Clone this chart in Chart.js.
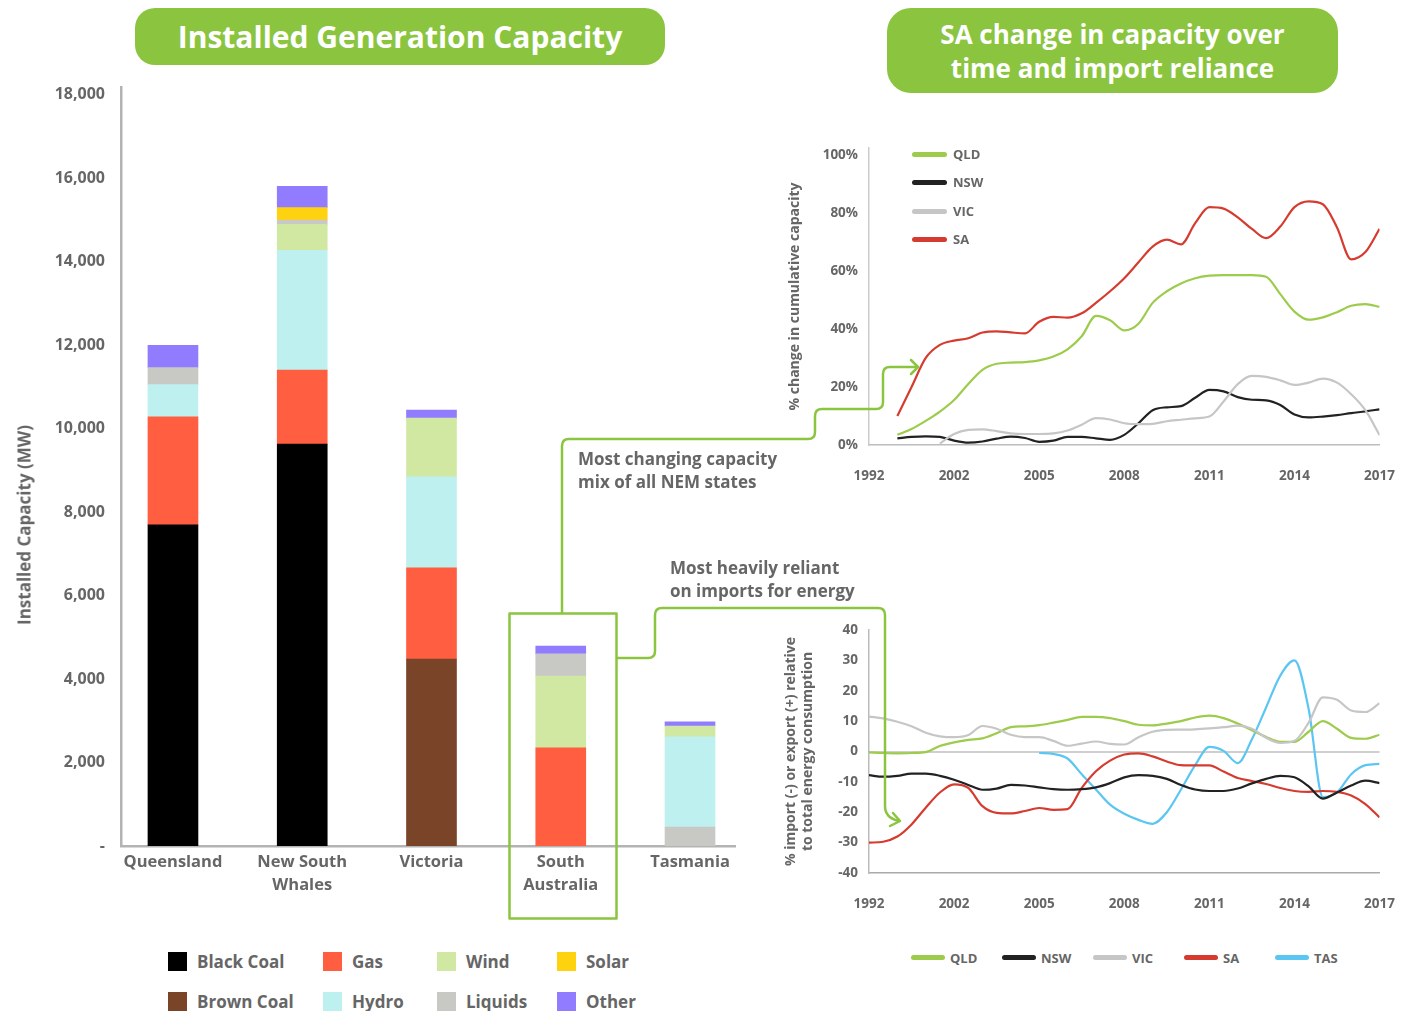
<!DOCTYPE html>
<html>
<head>
<meta charset="utf-8">
<title>Installed Generation Capacity</title>
<script src="https://cdn.jsdelivr.net/npm/chart.js@4.4.1/dist/chart.umd.min.js"></script>
<style>
  body { margin: 0; background: #fff; font-family: "Open Sans", sans-serif; color: #666; }
  #page { position: relative; width: 1418px; height: 1011px; overflow: hidden; }
  .banner { position: absolute; background: #8bc53f; color: #fff; font-weight: 700; display: flex; align-items: center; justify-content: center; text-align: center; }
  .note { position: absolute; font-weight: 700; font-size: 17px; line-height: 23px; white-space: nowrap; }
  .key { position: absolute; font-weight: 700; white-space: nowrap; }
  .swatch { position: absolute; }
  canvas { position: absolute; }
  svg { position: absolute; left: 0; top: 0; pointer-events: none; }
</style>
</head>
<body>
<div id="page">
  <div class="banner" style="left:135px;top:8px;width:530px;height:57px;border-radius:20px;font-size:30px;">Installed Generation Capacity</div>
  <div class="banner" style="left:887px;top:8px;width:451px;height:85px;border-radius:24px;font-size:26px;line-height:34px;">SA change in capacity over<br>time and import reliance</div>

  <canvas id="bars" width="760" height="930" style="left:0;top:0"></canvas>
  <canvas id="capChange" width="658" height="380" style="left:760px;top:120px"></canvas>
  <canvas id="imports" width="658" height="340" style="left:760px;top:600px"></canvas>

  <div class="key" style="left:24px;top:525px;transform:translate(-50%,-50%) rotate(-90deg);font-size:17px;">Installed Capacity (MW)</div>
  <div class="note" style="left:578px;top:447px">Most changing capacity<br>mix of all NEM states</div>
  <div class="note" style="left:670px;top:556px">Most heavily reliant<br>on imports for energy</div>

  <div id="fuelKey"></div>
  <div id="capKey"></div>
  <div id="impKey"></div>

  <svg width="1418" height="1011">
    <g fill="none" stroke="#8bc53f" stroke-width="2.5" stroke-linecap="round" stroke-linejoin="round">
      <rect x="509.5" y="613.5" width="107" height="305"/>
      <path d="M562,613 V446 Q562,439 569,439 H808 Q815,439 815,432 V416 Q815,409 822,409 H876 Q883,409 883,402 V374 Q883,367 890,367 H918"/>
      <path d="M911,360 L918,367 L911,374"/>
      <path d="M617,658 H648 Q655,658 655,651 V615 Q655,608 662,608 H878 Q885,608 885,615 V806 Q885,818 899,821"/>
      <path d="M893,813 L900,821 L890,826"/>
    </g>
  </svg>
</div>

<script>
// ---- left: installed capacity by state (MW) ----
const states = ['Queensland', ['New South', 'Whales'], 'Victoria', ['South', 'Australia'], 'Tasmania'];
const capTicks = [0, 2000, 4000, 6000, 8000, 10000, 12000, 14000, 16000, 18000];

const liquidsBase = [0, 0, 0, 0, 455];
const blackCoal = [7690, 9630, 0, 0, 0];
const brownCoal = [0, 0, 4480, 0, 0];
const gas = [2590, 1770, 2180, 2350, 0];
const hydro = [770, 2870, 2180, 0, 2160];
const wind = [0, 620, 1410, 1720, 260];
const liquids = [410, 100, 0, 530, 0];
const solar = [0, 300, 0, 0, 0];
const other = [530, 510, 190, 190, 100];

const fuelNames = ['Black Coal', 'Gas', 'Wind', 'Solar', 'Brown Coal', 'Hydro', 'Liquids', 'Other'];
const fuelColors = {
    'Black Coal': '#000000',
    'Brown Coal': '#7a4429',
    'Gas': '#ff5e40',
    'Hydro': '#bef0f0',
    'Wind': '#d1e8a3',
    'Liquids': '#c8c9c4',
    'Solar': '#ffd20f',
    'Other': '#917cff'
};

// ---- right: half-year samples 1999..2017 ----
const years = [1999, 1999.5, 2000, 2000.5, 2001, 2001.5, 2002, 2002.5, 2003, 2003.5, 2004, 2004.5,
    2005, 2005.5, 2006, 2006.5, 2007, 2007.5, 2008, 2008.5, 2009, 2009.5, 2010, 2010.5,
    2011, 2011.5, 2012, 2012.5, 2013, 2013.5, 2014, 2014.5, 2015, 2015.5, 2016, 2016.5, 2017];
const yearTicks = [1999, 2002, 2005, 2008, 2011, 2014, 2017];
const yearTickLabels = ['1992', '2002', '2005', '2008', '2011', '2014', '2017'];

// % change in cumulative capacity
const qldCap = [null, null, 3.5, 5.5, 8.3, 11.5, 15.5, 21, 25.9, 28, 28.4, 28.6, 29.2, 30.5, 33, 37.5, 44.5, 43, 39.5, 41.8,
    49, 53, 55.7, 57.5, 58.4, 58.6, 58.6, 58.6, 58, 52, 46, 43.2, 44, 45.8, 48, 48.6, 47.6];
const nswCap = [null, null, 2.3, 2.8, 3, 2.8, 1.5, 0.8, 1.2, 2.2, 2.9, 2.4, 1.1, 1.5, 2.8, 2.8, 2.3, 1.8, 3.5, 7.5,
    12, 13, 13.4, 16.3, 19, 18.5, 16.5, 15.6, 15.4, 13.8, 10.5, 9.5, 9.8, 10.3, 11, 11.6, 12.3];
const vicCap = [null, null, null, null, null, 0.5, 3.8, 5.2, 5.4, 4.8, 4, 3.8, 3.8, 4, 5, 7, 9.3, 8.8, 7.5, 7.2,
    7.3, 8.2, 8.7, 9.2, 9.8, 15, 21, 23.8, 23.5, 22.3, 20.7, 21.5, 22.9, 21.5, 17.5, 12, 3.4];
const saCap = [null, null, 10, 20, 30, 34.5, 36, 36.8, 38.8, 39.2, 38.8, 38.5, 42.5, 44.2, 43.9, 45.4, 49, 53, 57.5, 63,
    68.4, 70.8, 69.2, 76.5, 82, 81.5, 78.5, 74.5, 71.3, 75.3, 82, 84, 83, 75, 64, 66.5, 74.5];

// % import (-) or export (+) relative to consumption
const qldImp = [-0.3, -0.5, -0.6, -0.5, -0.2, 1.8, 3, 3.8, 4.3, 6, 8, 8.3, 8.7, 9.5, 10.4, 11.4, 11.4, 11, 10, 8.8,
    8.6, 9.2, 10, 11.2, 11.8, 11, 9.2, 7, 4.8, 3.2, 3.2, 6.5, 10, 7.5, 4.5, 4.2, 5.5];
const nswImp = [-7.8, -8.3, -8, -7.3, -7.3, -8, -9.3, -11, -12.6, -12.2, -11, -11.2, -11.8, -12.4, -12.6, -12.4, -11.8, -10.4, -8.5, -7.8,
    -8, -9, -11, -12.5, -13, -13, -12.2, -10.5, -9, -8, -8.5, -11.5, -15.5, -13.5, -11.2, -9.6, -10.4];
const vicImp = [11.5, 10.9, 9.8, 8.3, 6.2, 5, 4.7, 5.4, 8.4, 7.5, 5.5, 4.7, 4.7, 3.5, 1.9, 2.6, 3.3, 2.5, 2.3, 4.7,
    6.5, 7.1, 7.2, 7.3, 7.6, 8, 8.5, 7.5, 4.5, 2.8, 3.5, 9.5, 17.8, 17, 13.5, 13, 15.9];
const saImp = [-30, -29.7, -28, -24, -18.5, -13.5, -10.8, -12, -18, -20.2, -20.4, -19.6, -18.6, -19.2, -19, -12, -6.5, -3, -1, -0.6,
    -1.6, -3.3, -4.5, -4.6, -4.6, -6.6, -8.7, -9.7, -10.7, -12, -13, -13.3, -13, -13.3, -14.5, -17.3, -21.7];
const tasImp = [null, null, null, null, null, null, null, null, null, null, null, null,
    -0.5, -0.8, -2.3, -7.5, -12.5, -17.5, -20.5, -22.5, -23.8, -20, -12.5, -4.5, 1.5, 0.2, -3.8, 4, 14.5, 25,
    30, 14, -15, -13.5, -7.5, -4.5, -4.1];

const regionColors = { QLD: '#9dcb4b', NSW: '#222222', VIC: '#c6c6c6', SA: '#d63b2f', TAS: '#5cc6f2' };

Chart.defaults.font.family = '"Open Sans", sans-serif';
Chart.defaults.color = '#666';

const bold = (size, lineHeight) => ({ size: size, weight: 'bold', lineHeight: lineHeight || 1.2 });

// ---- bar chart ----
const barStack = [
    ['Liquids', liquidsBase], ['Black Coal', blackCoal], ['Brown Coal', brownCoal], ['Gas', gas],
    ['Hydro', hydro], ['Wind', wind], ['Liquids', liquids], ['Solar', solar], ['Other', other]
];

new Chart(document.getElementById('bars'), {
    type: 'bar',
    data: {
        datasets: barStack.map(([name, values]) => ({
            label: name,
            // empty segments are left out so no hairline gets drawn
            data: values.map((v, i) => ({ x: i, y: v || null })),
            backgroundColor: fuelColors[name],
            borderWidth: 0,
            barThickness: 50
        }))
    },
    options: {
        responsive: false,
        animation: false,
        layout: { padding: { top: 87, right: 25, left: 0, bottom: 0 } },
        plugins: { legend: { display: false }, tooltip: { enabled: false } },
        scales: {
            x: {
                type: 'linear', min: -0.402, max: 4.348, stacked: true, offset: false,
                grid: { display: false, drawTicks: false },
                border: { color: '#b3b3b3', width: 2.5 },
                afterBuildTicks: s => { s.ticks = states.map((c, i) => ({ value: i })); },
                afterFit: s => { s.height = 84; },
                ticks: { callback: v => states[v], font: bold(16.5, 1.4), padding: 5, maxRotation: 0, autoSkip: false }
            },
            y: {
                stacked: true, min: 0, max: 18180,
                grid: { display: false, drawTicks: false },
                border: { color: '#b3b3b3', width: 2.5 },
                afterBuildTicks: s => { s.ticks = capTicks.map(v => ({ value: v })); },
                afterFit: s => { s.width = 121; },
                ticks: { callback: v => v === 0 ? '-' : v.toLocaleString('en-US'), font: bold(16), padding: 16 }
            }
        }
    }
});

// ---- line charts ----
function lineSet(name, values) {
    return {
        label: name,
        data: years.map((x, i) => ({ x: x, y: values[i] })),
        borderColor: regionColors[name],
        borderWidth: 2.2,
        pointRadius: 0,
        fill: false,
        spanGaps: true,
        cubicInterpolationMode: 'monotone'
    };
}

function yearAxis(height, pad, borderColor) {
    return {
        type: 'linear', min: 1999, max: 2017,
        grid: { display: false, drawTicks: false },
        border: { color: borderColor, width: 1.5 },
        afterBuildTicks: s => { s.ticks = yearTicks.map(v => ({ value: v })); },
        afterFit: s => { s.height = height; },
        ticks: { callback: (v, i) => yearTickLabels[i], font: bold(13.5), padding: pad, maxRotation: 0, autoSkip: false }
    };
}

new Chart(document.getElementById('capChange'), {
    type: 'line',
    data: {
        datasets: [lineSet('VIC', vicCap), lineSet('NSW', nswCap), lineSet('QLD', qldCap), lineSet('SA', saCap)]
    },
    options: {
        responsive: false,
        animation: false,
        layout: { padding: { top: 28, right: 18, left: 0, bottom: 0 } },
        plugins: { legend: { display: false }, tooltip: { enabled: false } },
        scales: {
            x: yearAxis(55, 23, '#bdbdbd'),
            y: {
                min: 0, max: 102.4,
                grid: { display: false, drawTicks: false },
                border: { color: '#cccccc', width: 1.5 },
                afterBuildTicks: s => { s.ticks = [0, 20, 40, 60, 80, 100].map(v => ({ value: v })); },
                afterFit: s => { s.width = 109; },
                ticks: { callback: v => v + '%', font: bold(13.5), padding: 11 },
                title: { display: true, text: '% change in cumulative capacity', font: bold(14), padding: { top: 27, bottom: 0 } }
            }
        }
    }
});

new Chart(document.getElementById('imports'), {
    type: 'line',
    data: {
        datasets: [lineSet('VIC', vicImp), lineSet('NSW', nswImp), lineSet('QLD', qldImp), lineSet('SA', saImp), lineSet('TAS', tasImp)]
    },
    options: {
        responsive: false,
        animation: false,
        layout: { padding: { top: 30, right: 18, left: 0, bottom: 0 } },
        plugins: { legend: { display: false }, tooltip: { enabled: false } },
        scales: {
            x: yearAxis(67, 23, '#aaaaaa'),
            y: {
                min: -40, max: 40,
                grid: {
                    drawTicks: false,
                    color: c => c.tick && c.tick.value === 0 ? '#cfcfcf' : 'rgba(0,0,0,0)',
                    lineWidth: 2
                },
                border: { color: '#bbbbbb', width: 1.5 },
                afterBuildTicks: s => { s.ticks = [-40, -30, -20, -10, 0, 10, 20, 30, 40].map(v => ({ value: v })); },
                afterFit: s => { s.width = 109; },
                ticks: { font: bold(13.5), padding: 11 },
                title: {
                    display: true,
                    text: ['% import (-) or export (+) relative', 'to total energy consumption'],
                    font: bold(14, 1.25), padding: { top: 22, bottom: 0 }
                }
            }
        }
    }
});

// ---- legends (html) ----
function addKey(parentId, html) {
    document.getElementById(parentId).insertAdjacentHTML('beforeend', html);
}

const fuelKeyX = [168, 323, 437, 557];
const fuelKeyY = [952, 992];
fuelNames.forEach((name, i) => {
    const x = fuelKeyX[i % 4], y = fuelKeyY[Math.floor(i / 4)];
    addKey('fuelKey',
        `<div class="swatch" style="left:${x}px;top:${y}px;width:19px;height:19px;background:${fuelColors[name]}"></div>` +
        `<div class="key" style="left:${x + 29}px;top:${y - 2}px;font-size:17px;line-height:23px">${name}</div>`);
});

['QLD', 'NSW', 'VIC', 'SA'].forEach((name, i) => {
    const y = [154, 182, 211, 239][i];
    addKey('capKey',
        `<div class="swatch" style="left:912px;top:${y - 2.5}px;width:35px;height:5px;border-radius:3px;background:${regionColors[name]}"></div>` +
        `<div class="key" style="left:953px;top:${y - 9}px;font-size:13px;line-height:18px">${name}</div>`);
});

['QLD', 'NSW', 'VIC', 'SA', 'TAS'].forEach((name, i) => {
    const x = [911, 1002, 1093, 1184, 1275][i];
    addKey('impKey',
        `<div class="swatch" style="left:${x}px;top:955px;width:34px;height:5px;border-radius:3px;background:${regionColors[name]}"></div>` +
        `<div class="key" style="left:${x + 39}px;top:948.5px;font-size:13px;line-height:18px">${name}</div>`);
});
</script>
</body>
</html>
